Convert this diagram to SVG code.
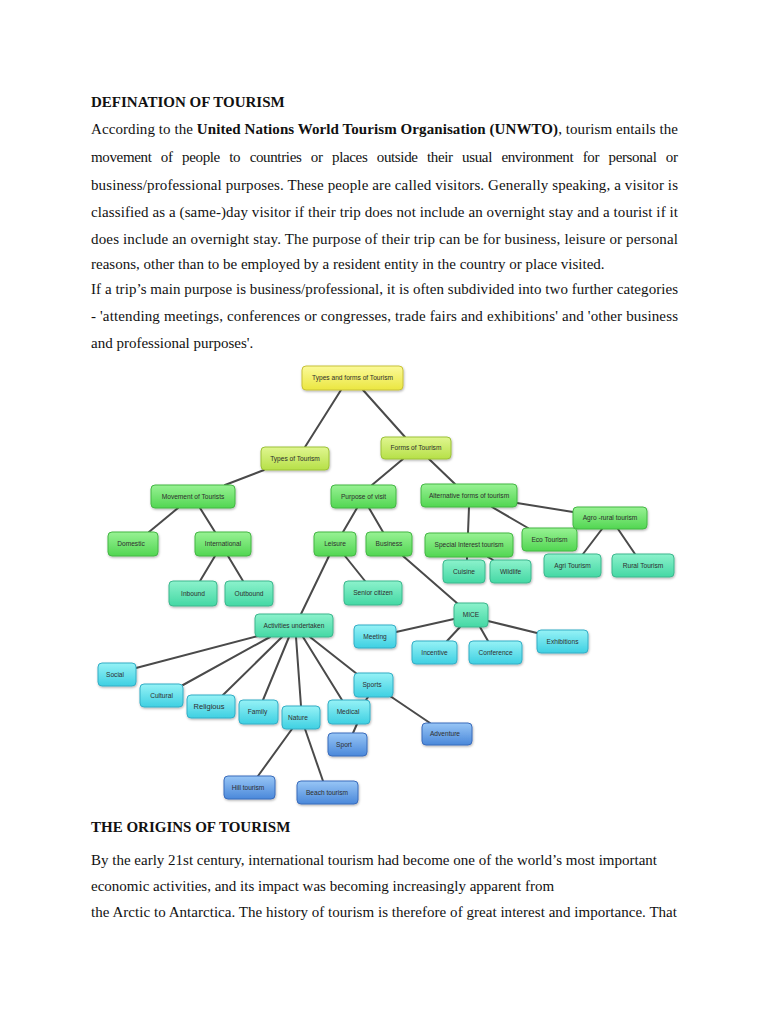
<svg xmlns="http://www.w3.org/2000/svg" width="768" height="1024" viewBox="0 0 768 1024">
<defs>
<linearGradient id="gY" x1="0" y1="0" x2="0" y2="1"><stop offset="0" stop-color="#fbfa9a"/><stop offset="1" stop-color="#ebe640"/></linearGradient>
<linearGradient id="gYG" x1="0" y1="0" x2="0" y2="1"><stop offset="0" stop-color="#e0f690"/><stop offset="1" stop-color="#b6e048"/></linearGradient>
<linearGradient id="gG" x1="0" y1="0" x2="0" y2="1"><stop offset="0" stop-color="#98f294"/><stop offset="1" stop-color="#52d652"/></linearGradient>
<linearGradient id="gT" x1="0" y1="0" x2="0" y2="1"><stop offset="0" stop-color="#8cf2cc"/><stop offset="1" stop-color="#44d8a4"/></linearGradient>
<linearGradient id="gC" x1="0" y1="0" x2="0" y2="1"><stop offset="0" stop-color="#96f2f6"/><stop offset="1" stop-color="#3ed0e2"/></linearGradient>
<linearGradient id="gB" x1="0" y1="0" x2="0" y2="1"><stop offset="0" stop-color="#98c6f6"/><stop offset="1" stop-color="#4a88da"/></linearGradient>
<filter id="sh" x="-20%" y="-30%" width="140%" height="170%"><feDropShadow dx="0.6" dy="1.2" stdDeviation="0.8" flood-color="#000" flood-opacity="0.3"/></filter>
</defs>
<style>
.body{font-family:"Liberation Serif","Times New Roman",serif;font-size:15px;fill:#111}
.b{font-weight:bold}
.n rect{rx:4;ry:4;stroke-width:1;filter:url(#sh)}
.n text{font-family:"Liberation Sans",Arial,sans-serif;font-size:6.6px;fill:#2e2e2e;text-anchor:middle}
.y rect{fill:url(#gY);stroke:#c8c238}
.yg rect{fill:url(#gYG);stroke:#9cc238}
.g rect{fill:url(#gG);stroke:#44b844}
.t rect{fill:url(#gT);stroke:#3cb88e}
.c rect{fill:url(#gC);stroke:#34aec6}
.bl rect{fill:url(#gB);stroke:#3a6cbc}
#connectors line{stroke:#4a4a4a;stroke-width:2;stroke-linecap:round}
</style>
<rect width="768" height="1024" fill="#fff"/>
<g id="text-top">
<text class="body b" x="91" y="107">DEFINATION OF TOURISM</text>
<text class="body" x="91" y="134" textLength="587" lengthAdjust="spacing">According to the <tspan class="b">United Nations World Tourism Organisation (UNWTO)</tspan>, tourism entails the</text>
<text class="body" x="91" y="162" textLength="587" lengthAdjust="spacing" word-spacing="6">movement of people to countries or places outside their usual environment for personal or</text>
<text class="body" x="91" y="190" textLength="587" lengthAdjust="spacing">business/professional purposes. These people are called visitors. Generally speaking, a visitor is</text>
<text class="body" x="91" y="217" textLength="587" lengthAdjust="spacing">classified as a (same-)day visitor if their trip does not include an overnight stay and a tourist if it</text>
<text class="body" x="91" y="244" textLength="587" lengthAdjust="spacing">does include an overnight stay. The purpose of their trip can be for business, leisure or personal</text>
<text class="body" x="91" y="269">reasons, other than to be employed by a resident entity in the country or place visited.</text>
<text class="body" x="91" y="294" textLength="587" lengthAdjust="spacing">If a trip’s main purpose is business/professional, it is often subdivided into two further categories</text>
<text class="body" x="91" y="321" textLength="587" lengthAdjust="spacing">- 'attending meetings, conferences or congresses, trade fairs and exhibitions' and 'other business</text>
<text class="body" x="91" y="348">and professional purposes'.</text>
</g>
<g id="connectors">
<line x1="341" y1="390" x2="305" y2="447"/>
<line x1="363" y1="390" x2="405" y2="437"/>
<line x1="264" y1="470" x2="225" y2="485"/>
<line x1="403" y1="459" x2="372" y2="485"/>
<line x1="429" y1="459" x2="455" y2="484"/>
<line x1="178" y1="508" x2="149" y2="532"/>
<line x1="200" y1="508" x2="215" y2="532"/>
<line x1="215" y1="556" x2="200" y2="581"/>
<line x1="228" y1="556" x2="243" y2="581"/>
<line x1="357" y1="508" x2="343" y2="532"/>
<line x1="369" y1="508" x2="383" y2="532"/>
<line x1="345" y1="556" x2="365" y2="581"/>
<line x1="329" y1="556" x2="301" y2="614"/>
<line x1="403" y1="556" x2="458" y2="604"/>
<line x1="469" y1="507" x2="468" y2="533"/>
<line x1="492" y1="507" x2="528" y2="528"/>
<line x1="517" y1="503" x2="573" y2="512"/>
<line x1="467" y1="557" x2="467" y2="560"/>
<line x1="488" y1="557" x2="493" y2="560"/>
<line x1="602" y1="529" x2="583" y2="554"/>
<line x1="618" y1="529" x2="635" y2="554"/>
<line x1="454" y1="619" x2="396" y2="632"/>
<line x1="460" y1="627" x2="447" y2="641"/>
<line x1="480" y1="627" x2="488" y2="641"/>
<line x1="488" y1="621" x2="537" y2="633"/>
<line x1="258" y1="636" x2="136" y2="668"/>
<line x1="270" y1="637" x2="183" y2="685"/>
<line x1="282" y1="637" x2="223" y2="695"/>
<line x1="289" y1="637" x2="263" y2="700"/>
<line x1="296" y1="637" x2="301" y2="706"/>
<line x1="303" y1="637" x2="342" y2="700"/>
<line x1="310" y1="637" x2="357" y2="674"/>
<line x1="292" y1="729" x2="258" y2="776"/>
<line x1="305" y1="729" x2="323" y2="781"/>
<line x1="357" y1="724" x2="353" y2="733"/>
<line x1="368" y1="697" x2="366" y2="700"/>
<line x1="390" y1="696" x2="430" y2="723"/>
</g>
<g id="n-top" class="n y"><rect x="302" y="366" width="101" height="24"/><text x="352.5" y="380.3">Types and forms of Tourism</text></g>
<g id="n-types" class="n yg"><rect x="261" y="447" width="68" height="23"/><text x="295" y="460.8">Types of Tourism</text></g>
<g id="n-forms" class="n yg"><rect x="381" y="437" width="70" height="22"/><text x="416" y="450.3">Forms of Tourism</text></g>
<g id="n-movement" class="n g"><rect x="151" y="485" width="84" height="23"/><text x="193" y="498.8">Movement  of Tourists</text></g>
<g id="n-purpose" class="n g"><rect x="331" y="485" width="65" height="23"/><text x="363.5" y="498.8">Purpose of visit</text></g>
<g id="n-alternative" class="n g"><rect x="421" y="484" width="96" height="23"/><text x="469" y="497.8">Alternative forms of tourism</text></g>
<g id="n-agro" class="n g"><rect x="573" y="507" width="74" height="22"/><text x="610" y="520.3">Agro -rural tourism</text></g>
<g id="n-domestic" class="n g"><rect x="108" y="532" width="50" height="24"/><text x="131" y="546.3">Domestic</text></g>
<g id="n-international" class="n g"><rect x="195" y="532" width="56" height="24"/><text x="223" y="546.3">International</text></g>
<g id="n-leisure" class="n g"><rect x="314" y="532" width="42" height="24"/><text x="335" y="546.3">Leisure</text></g>
<g id="n-business" class="n g"><rect x="366" y="532" width="46" height="24"/><text x="389" y="546.3">Business</text></g>
<g id="n-special" class="n g"><rect x="425" y="533" width="88" height="24"/><text x="469" y="547.3">Special Interest tourism</text></g>
<g id="n-eco" class="n g"><rect x="522" y="528" width="55" height="23"/><text x="549.5" y="541.8">Eco Tourism</text></g>
<g id="n-cuisine" class="n t"><rect x="443" y="560" width="42" height="23"/><text x="464" y="573.8">Cuisine</text></g>
<g id="n-wildlife" class="n t"><rect x="490" y="560" width="41" height="23"/><text x="510.5" y="573.8">Wildlife</text></g>
<g id="n-agri" class="n t"><rect x="544" y="554" width="57" height="23"/><text x="572.5" y="567.8">Agri Tourism</text></g>
<g id="n-rural" class="n t"><rect x="612" y="554" width="62" height="23"/><text x="643" y="567.8">Rural Tourism</text></g>
<g id="n-inbound" class="n t"><rect x="169" y="581" width="48" height="25"/><text x="193" y="595.8">Inbound</text></g>
<g id="n-outbound" class="n t"><rect x="225" y="581" width="48" height="25"/><text x="249" y="595.8">Outbound</text></g>
<g id="n-senior" class="n t"><rect x="344" y="581" width="58" height="24"/><text x="373" y="595.3">Senior citizen</text></g>
<g id="n-mice" class="n t"><rect x="454" y="603" width="34" height="24"/><text x="471" y="617.3">MICE</text></g>
<g id="n-activities" class="n t"><rect x="255" y="614" width="78" height="23"/><text x="294" y="627.8">Activities undertaken</text></g>
<g id="n-meeting" class="n c"><rect x="354" y="625" width="42" height="23"/><text x="375" y="638.8">Meeting</text></g>
<g id="n-incentive" class="n c"><rect x="412" y="641" width="45" height="23"/><text x="434.5" y="654.8">Incentive</text></g>
<g id="n-conference" class="n c"><rect x="469" y="641" width="53" height="23"/><text x="495.5" y="654.8">Conference</text></g>
<g id="n-exhibitions" class="n c"><rect x="537" y="630" width="51" height="23"/><text x="562.5" y="643.8">Exhibitions</text></g>
<g id="n-social" class="n c"><rect x="98" y="663" width="38" height="23"/><text x="115" y="676.8">Social</text></g>
<g id="n-cultural" class="n c"><rect x="140" y="684" width="43" height="23"/><text x="161.5" y="697.8">Cultural</text></g>
<g id="n-religious" class="n c"><rect x="187" y="695" width="48" height="23"/><text x="209" y="709" style="font-size:7.5px">Religious</text></g>
<g id="n-family" class="n c"><rect x="239" y="700" width="39" height="24"/><text x="257.5" y="714.3">Family</text></g>
<g id="n-nature" class="n c"><rect x="282" y="706" width="38" height="23"/><text x="298" y="719.8">Nature</text></g>
<g id="n-medical" class="n c"><rect x="328" y="700" width="42" height="24"/><text x="348" y="714.3">Medical</text></g>
<g id="n-sports" class="n c"><rect x="354" y="673" width="39" height="24"/><text x="372" y="687.3">Sports</text></g>
<g id="n-sport" class="n bl"><rect x="328" y="733" width="39" height="23"/><text x="344" y="746.8">Sport</text></g>
<g id="n-adventure" class="n bl"><rect x="422" y="723" width="50" height="22"/><text x="445" y="736.3">Adventure</text></g>
<g id="n-hill" class="n bl"><rect x="224" y="776" width="51" height="23"/><text x="248" y="789.8">Hill tourism</text></g>
<g id="n-beach" class="n bl"><rect x="297" y="781" width="61" height="23"/><text x="327" y="794.8">Beach tourism</text></g>
<g id="text-bottom">
<text class="body b" x="91" y="832">THE ORIGINS OF TOURISM</text>
<text class="body" x="91" y="865">By the early 21st century, international tourism had become one of the world’s most important</text>
<text class="body" x="91" y="891">economic activities, and its impact was becoming increasingly apparent from</text>
<text class="body" x="91" y="917" textLength="586" lengthAdjust="spacing">the Arctic to Antarctica. The history of tourism is therefore of great interest and importance. That</text>
</g>
</svg>
